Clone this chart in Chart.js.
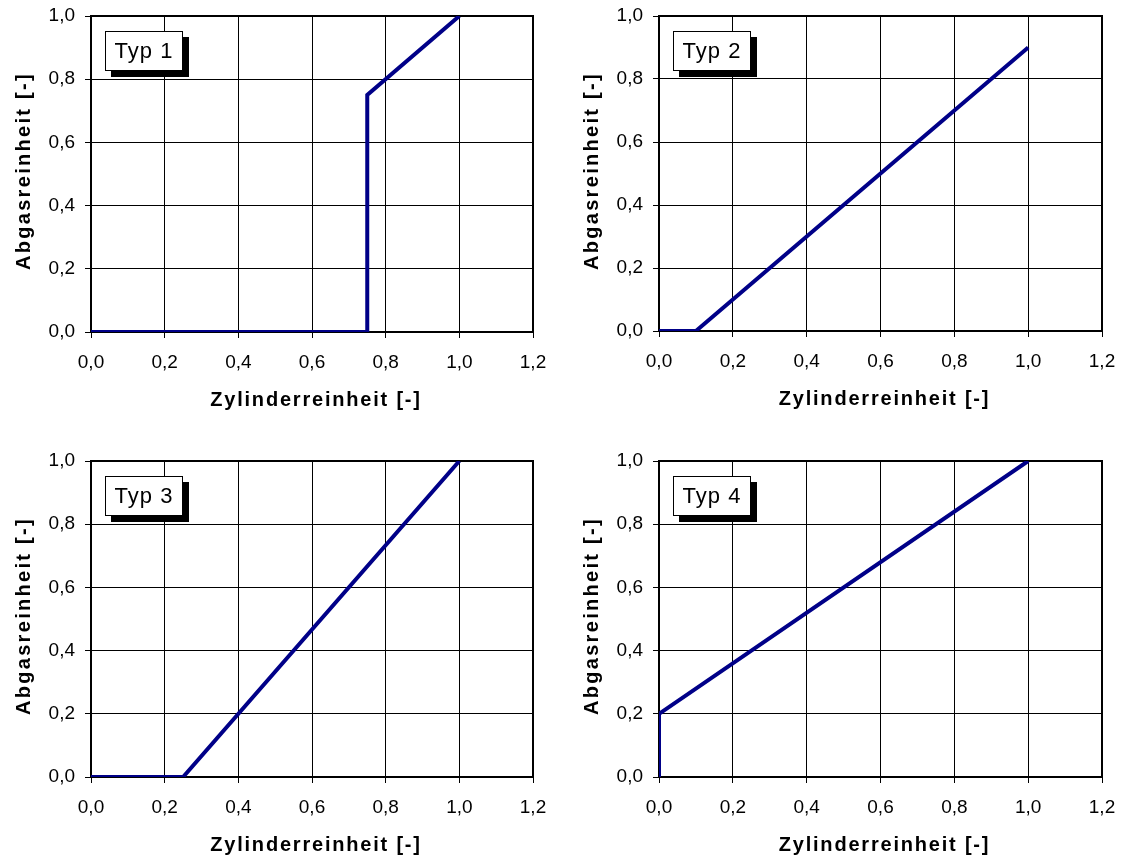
<!DOCTYPE html>
<html>
<head>
<meta charset="utf-8">
<script src="https://cdn.jsdelivr.net/npm/chart.js@4/dist/chart.umd.min.js"></script>
<style>
  html, body { margin: 0; padding: 0; background: #fff; overflow: hidden; width: 1121px; height: 856px; }
  canvas { position: absolute; }
</style>
</head>
<body>
<canvas id="c1" width="560" height="420" style="left:0px;top:0px"></canvas>
<canvas id="c2" width="553" height="420" style="left:568px;top:0px"></canvas>
<canvas id="c3" width="560" height="411" style="left:0px;top:445px"></canvas>
<canvas id="c4" width="553" height="411" style="left:568px;top:445px"></canvas>
<script>
// Tick labels (German decimal comma)
const xTickLabels = ['0,0', '0,2', '0,4', '0,6', '0,8', '1,0', '1,2'];
const yTickLabels = ['0,0', '0,2', '0,4', '0,6', '0,8', '1,0'];
const xTitle = 'Zylinderreinheit [-]';
const yTitle = 'Abgasreinheit [-]';
const panelNames = ['Typ 1', 'Typ 2', 'Typ 3', 'Typ 4'];

// Zylinderreinheit (x) vs. Abgasreinheit (y) for each type
const typ1X = [0, 0.75, 0.75, 1.0];
const typ1Y = [0, 0, 0.75, 1.0];
const typ2X = [0, 0.1, 1.0];
const typ2Y = [0, 0, 0.9];
const typ3X = [0, 0.25, 1.0];
const typ3Y = [0, 0, 1.0];
const typ4X = [0, 0, 1.0];
const typ4Y = [0, 0.2, 1.0];

const FONT = '"Liberation Sans", Arial, sans-serif';
const LINE_COLOR = '#000088';

// Frame around the plot area, drawn beneath the curve
const framePlugin = {
  id: 'frame',
  beforeDatasetsDraw(chart) {
    const { ctx, chartArea: a } = chart;
    ctx.save();
    ctx.strokeStyle = '#000';
    ctx.lineWidth = 2;
    ctx.strokeRect(a.left, a.top, a.right - a.left, a.bottom - a.top);
    ctx.restore();
  }
};

// Axis titles and the boxed "Typ" label with its drop shadow
const decorPlugin = {
  id: 'decor',
  afterDraw(chart, args, opts) {
    const { ctx, chartArea: a } = chart;
    ctx.save();
    ctx.fillStyle = '#000';
    ctx.font = 'bold 20px ' + FONT;
    ctx.textAlign = 'center';
    ctx.textBaseline = 'alphabetic';
    if ('letterSpacing' in ctx) ctx.letterSpacing = '1.8px';
    ctx.fillText(xTitle, (a.left + a.right) / 2 + 4, a.bottom + 74);
    if ('letterSpacing' in ctx) ctx.letterSpacing = '2.3px';
    ctx.save();
    ctx.translate(30, a.top + 155);
    ctx.rotate(-Math.PI / 2);
    ctx.fillText(yTitle, 0, 0);
    ctx.restore();

    const bx = a.left + 14, by = a.top + 15, bw = 78, bh = 40;
    ctx.fillStyle = '#000';
    ctx.fillRect(bx + 6, by + 6, bw, bh);
    ctx.fillStyle = '#fff';
    ctx.fillRect(bx, by, bw, bh);
    ctx.strokeStyle = '#000';
    ctx.lineWidth = 1;
    ctx.strokeRect(bx + 0.5, by + 0.5, bw - 1, bh - 1);
    if ('letterSpacing' in ctx) ctx.letterSpacing = '1px';
    ctx.fillStyle = '#000';
    ctx.font = '22px ' + FONT;
    ctx.textAlign = 'center';
    ctx.textBaseline = 'middle';
    ctx.fillText(opts.label, bx + bw / 2, by + bh / 2 + 1);
    ctx.restore();
  }
};

function makePanel(id, name, xs, ys, padTop, padRight, padBottom) {
  const pts = xs.map((x, i) => ({ x: x, y: ys[i] }));
  return new Chart(document.getElementById(id), {
    type: 'scatter',
    data: {
      datasets: [{
        data: pts,
        showLine: true,
        borderColor: LINE_COLOR,
        borderWidth: 4,
        pointRadius: 0,
        pointHoverRadius: 0,
        fill: false,
        tension: 0
      }]
    },
    options: {
      responsive: false,
      animation: false,
      devicePixelRatio: 1,
      layout: { padding: { top: padTop, right: padRight, bottom: padBottom, left: 0 } },
      plugins: {
        legend: { display: false },
        tooltip: { enabled: false },
        decor: { label: name }
      },
      scales: {
        x: {
          type: 'linear',
          min: 0, max: 1.2,
          afterFit(s) { s.height = 60; s.paddingLeft = 0; s.paddingRight = 0; },
          ticks: {
            stepSize: 0.2,
            padding: 13,
            color: '#000',
            font: { family: FONT, size: 19 },
            maxRotation: 0,
            callback: (v, i) => xTickLabels[i]
          },
          grid: { color: '#000', lineWidth: 1, tickLength: 6, tickColor: '#000' },
          border: { display: false }
        },
        y: {
          type: 'linear',
          min: 0, max: 1.0,
          afterFit(s) { s.width = 91; s.paddingTop = 0; s.paddingBottom = 0; },
          ticks: {
            stepSize: 0.2,
            padding: 10,
            color: '#000',
            font: { family: FONT, size: 19 },
            callback: (v, i) => yTickLabels[i]
          },
          grid: { color: '#000', lineWidth: 1, tickLength: 6, tickColor: '#000' },
          border: { display: false }
        }
      }
    },
    plugins: [framePlugin, decorPlugin]
  });
}

makePanel('c1', panelNames[0], typ1X, typ1Y, 16, 27, 28);
makePanel('c2', panelNames[1], typ2X, typ2Y, 16, 19, 29);
makePanel('c3', panelNames[2], typ3X, typ3Y, 16, 27, 19);
makePanel('c4', panelNames[3], typ4X, typ4Y, 16, 19, 19);
</script>
</body>
</html>
